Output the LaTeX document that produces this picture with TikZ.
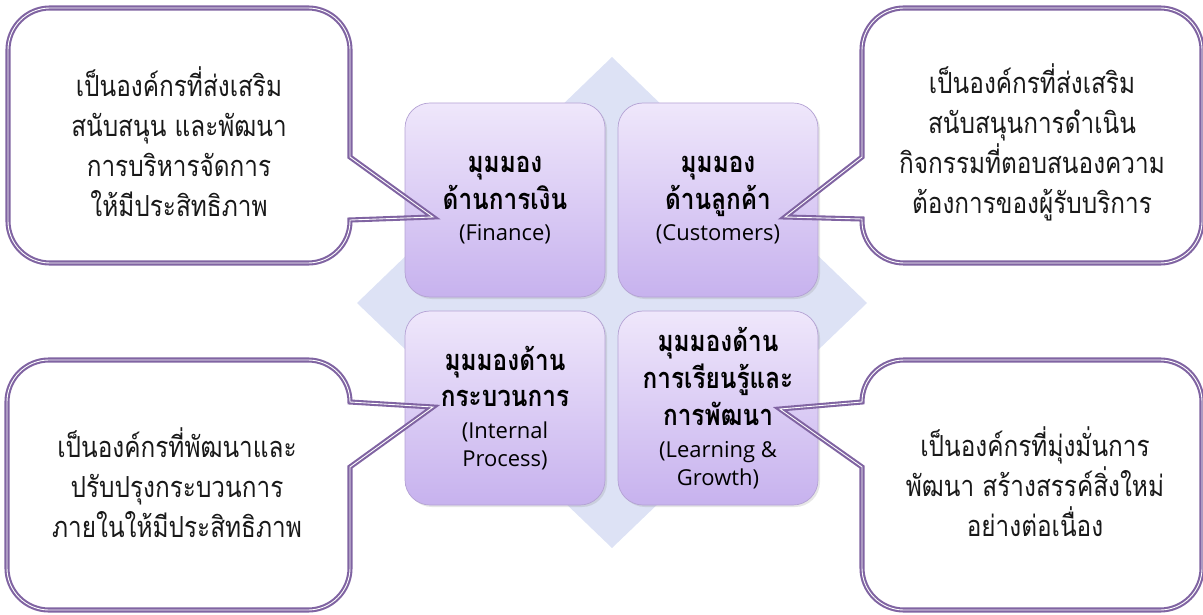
\documentclass[tikz,border=0pt]{standalone}
\usepackage{fontspec}
\newfontfamily\thaifont[Script=Thai,FakeStretch=0.84]{Loma}
\newfontfamily\engfont{Open Sans}
\usetikzlibrary{shadows}
\definecolor{boxtop}{RGB}{239,231,251}
\definecolor{boxbot}{RGB}{199,178,238}
\definecolor{boxline}{RGB}{180,162,212}
\definecolor{diamondfill}{RGB}{221,226,245}
\definecolor{balloonline}{RGB}{128,100,162}
\definecolor{notegray}{RGB}{25,25,25}
\newcommand{\eng}{\engfont\mdseries\fontsize{12.5}{15}\selectfont}
\begin{document}
\begin{tikzpicture}[x=0.2mm,y=0.2mm]
        \tikzstyle{persp} = [rounded corners=5mm,draw=boxline,top color=boxtop,bottom color=boxbot,minimum width=40mm,minimum height=38.8mm,align=center,drop shadow={opacity=0.2,shadow xshift=0.4mm,shadow yshift=-0.4mm},font=\thaifont\bfseries\fontsize{16.5}{21}\selectfont]
        \tikzstyle{balloon} = [draw=balloonline,double=white,line width=1.2pt,double distance=0.5pt]
        \tikzstyle{note} = [align=center,text=notegray,font=\thaifont\fontsize{16.5}{22.8}\selectfont]

        \useasboundingbox (0,0) rectangle (1203,614);

        \fill[diamondfill] (612,557) -- (867,311) -- (612,66) -- (357,311) -- cycle;

        \node[persp] (fin) at (505,414) {มุมมอง\\ด้านการเงิน\\[-3pt]\eng (Finance)};
        \node[persp] (cus) at (718,414) {มุมมอง\\ด้านลูกค้า\\[-3pt]\eng (Customers)};
        \node[persp] (pro) at (505,206) {มุมมองด้าน\\กระบวนการ\\[-3pt]\eng (Internal\\[-5pt]\eng Process)};
        \node[persp] (lrn) at (718,206) {มุมมองด้าน\\การเรียนรู้และ\\การพัฒนา\\[-3pt]\eng (Learning \&\\[-5pt]\eng Growth)};

        \coordinate (finTip) at (433,397);
        \coordinate (cusTip) at (785,397);
        \coordinate (proTip) at (433,207);
        \coordinate (lrnTip) at (780,205);

        \draw[balloon] (50,606) -- (308,606) arc(90:0:42) -- (350,457) -- (finTip) -- (350,394) -- (350,393) arc(0:-90:42) -- (50,351) arc(270:180:42) -- (8,564) arc(180:90:42) -- cycle;
        \draw[balloon] (904,606) -- (1160,606) arc(90:0:42) -- (1202,393) arc(0:-90:42) -- (904,351) arc(270:180:42) -- (862,395) -- (cusTip) -- (862,457) -- (862,564) arc(180:90:42) -- cycle;
        \draw[balloon] (49,254) -- (308,254) arc(90:0:42) -- (proTip) -- (350,147) -- (350,46) arc(0:-90:42) -- (49,4) arc(270:180:42) -- (7,212) arc(180:90:42) -- cycle;
        \draw[balloon] (904,254) -- (1160,254) arc(90:0:42) -- (1202,46) arc(0:-90:42) -- (904,4) arc(270:180:42) -- (862,147) -- (lrnTip) -- (862,212) arc(180:90:42) -- cycle;

        \node[note] (finNote) at (179,472) {เป็นองค์กรที่ส่งเสริม\\สนับสนุน และพัฒนา\\การบริหารจัดการ\\ให้มีประสิทธิภาพ};
        \node[note] (cusNote) at (1032,472) {เป็นองค์กรที่ส่งเสริม\\สนับสนุนการดำเนิน\\กิจกรรมที่ตอบสนองความ\\ต้องการของผู้รับบริการ};
        \node[note] (proNote) at (177,131) {เป็นองค์กรที่พัฒนาและ\\ปรับปรุงกระบวนการ\\ภายในให้มีประสิทธิภาพ};
        \node[note] (lrnNote) at (1035,132) {เป็นองค์กรที่มุ่งมั่นการ\\พัฒนา สร้างสรรค์สิ่งใหม่\\อย่างต่อเนื่อง};

\end{tikzpicture}
\end{document}
